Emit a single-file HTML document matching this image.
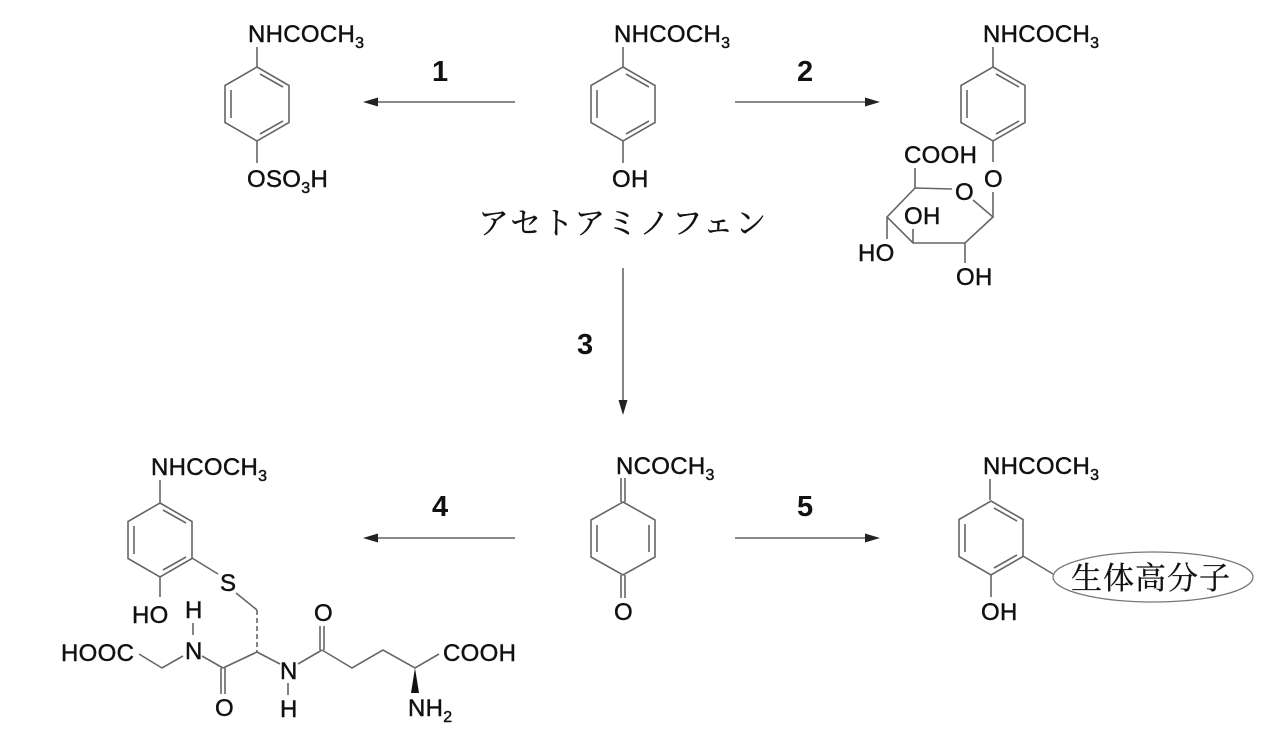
<!DOCTYPE html>
<html><head><meta charset="utf-8"><style>
html,body{margin:0;padding:0;background:#fff;}
svg{display:block;}
.t{font-family:"Liberation Sans",Arial,sans-serif;font-size:24px;fill:#111;stroke:#111;stroke-width:0.45;letter-spacing:0.3px;}
.n{font-family:"Liberation Sans",Arial,sans-serif;font-size:29px;font-weight:bold;fill:#111;}
.j{font-family:"Liberation Serif","Noto Serif CJK SC","Noto Sans CJK JP",serif;font-size:31px;fill:#111;stroke:#111;stroke-width:0.3;}
.b{stroke:#666;stroke-width:1.6;fill:none;}
.a{stroke:#444;stroke-width:1.3;fill:none;}
</style></head><body>
<svg width="1279" height="750" viewBox="0 0 1279 750" xmlns="http://www.w3.org/2000/svg">
<defs>
<g id="ring">
<polygon class="b" points="0,-37 32,-18.5 32,18.5 0,37 -32,18.5 -32,-18.5"/>
<line class="b" x1="-26" y1="-14" x2="-26" y2="14"/>
<line class="b" x1="3" y1="-30" x2="26" y2="-17"/>
<line class="b" x1="26" y1="17" x2="3" y2="30"/>
</g>
</defs>

<!-- top center acetaminophen -->
<text class="t" x="614" y="42">NHCOCH<tspan font-size="16" dy="6">3</tspan></text>
<line class="b" x1="623" y1="47" x2="623" y2="67"/>
<use href="#ring" x="623" y="104"/>
<line class="b" x1="623" y1="141" x2="623" y2="163"/>
<text class="t" x="612" y="187">OH</text>
<text class="j" x="478" y="234" letter-spacing="1.5">アセトアミノフェン</text>

<!-- top left sulfate -->
<text class="t" x="248" y="42">NHCOCH<tspan font-size="16" dy="6">3</tspan></text>
<line class="b" x1="257" y1="47" x2="257" y2="67"/>
<use href="#ring" x="257" y="104"/>
<line class="b" x1="257" y1="141" x2="257" y2="163"/>
<text class="t" x="247" y="187">OSO<tspan font-size="16" dy="6">3</tspan><tspan dy="-6">H</tspan></text>

<!-- top right glucuronide -->
<text class="t" x="983" y="42">NHCOCH<tspan font-size="16" dy="6">3</tspan></text>
<line class="b" x1="993" y1="47" x2="993" y2="67"/>
<use href="#ring" x="993" y="104"/>
<line class="b" x1="993" y1="141" x2="993" y2="162"/>
<text class="t" x="984" y="187">O</text>
<line class="b" x1="993" y1="192" x2="993" y2="217"/>
<polyline class="b" points="973,200 993,217 965,243 913,243 887,217 915,188 952,189"/>
<text class="t" x="955" y="200">O</text>
<line class="b" x1="915" y1="188" x2="915" y2="168"/>
<text class="t" x="904" y="163">COOH</text>
<line class="b" x1="913" y1="243" x2="913" y2="229"/>
<text class="t" x="904" y="224">OH</text>
<line class="b" x1="887" y1="217" x2="887" y2="239"/>
<text class="t" x="858" y="261">HO</text>
<line class="b" x1="965" y1="243" x2="965" y2="263"/>
<text class="t" x="956" y="285">OH</text>

<!-- arrows -->
<line class="a" x1="515" y1="102" x2="375" y2="102"/>
<polygon points="363,102 378,97.5 378,106.5" fill="#222"/>
<text class="n" x="432" y="81">1</text>
<line class="a" x1="735" y1="102" x2="868" y2="102"/>
<polygon points="880,102 865,97.5 865,106.5" fill="#222"/>
<text class="n" x="797" y="81">2</text>
<line class="a" x1="623" y1="268" x2="623" y2="403"/>
<polygon points="623,415 618.5,400 627.5,400" fill="#222"/>
<text class="n" x="577" y="354">3</text>
<line class="a" x1="515" y1="538" x2="375" y2="538"/>
<polygon points="363,538 378,533.5 378,542.5" fill="#222"/>
<text class="n" x="432" y="516">4</text>
<line class="a" x1="735" y1="538" x2="868" y2="538"/>
<polygon points="880,538 865,533.5 865,542.5" fill="#222"/>
<text class="n" x="797" y="516">5</text>

<!-- bottom center quinone imine -->
<text class="t" x="616" y="474">NCOCH<tspan font-size="16" dy="6">3</tspan></text>
<line class="b" x1="621" y1="478" x2="621" y2="502"/>
<line class="b" x1="625" y1="478" x2="625" y2="502"/>
<polygon class="b" points="623,502 655,520 655,557 623,575 591,557 591,520"/>
<line class="b" x1="597" y1="525" x2="597" y2="552"/>
<line class="b" x1="649" y1="525" x2="649" y2="552"/>
<line class="b" x1="621" y1="575" x2="621" y2="598"/>
<line class="b" x1="625" y1="575" x2="625" y2="598"/>
<text class="t" x="614" y="620">O</text>

<!-- bottom right -->
<text class="t" x="983" y="474">NHCOCH<tspan font-size="16" dy="6">3</tspan></text>
<line class="b" x1="990" y1="479" x2="990" y2="500"/>
<use href="#ring" x="991" y="538"/>
<line class="b" x1="991" y1="575" x2="991" y2="597"/>
<text class="t" x="981" y="620">OH</text>
<line class="b" x1="1023" y1="556" x2="1053" y2="574"/>
<ellipse cx="1153" cy="577" rx="100" ry="25" fill="none" stroke="#777" stroke-width="1.3"/>
<text class="j" x="1071" y="589" letter-spacing="1">生体高分子</text>

<!-- bottom left glutathione conjugate -->
<text class="t" x="151" y="475">NHCOCH<tspan font-size="16" dy="6">3</tspan></text>
<line class="b" x1="160" y1="480" x2="160" y2="503"/>
<use href="#ring" x="160" y="540"/>
<line class="b" x1="160" y1="577" x2="160" y2="597"/>
<text class="t" x="132" y="623">HO</text>
<line class="b" x1="192" y1="558" x2="218" y2="574"/>
<text class="t" x="220" y="591">S</text>
<line class="b" x1="236" y1="593" x2="257" y2="610"/>
<line x1="257" y1="610" x2="257" y2="652" stroke="#666" stroke-width="1.6" stroke-dasharray="5,3"/>
<line class="b" x1="257" y1="652" x2="280" y2="664"/>
<text class="t" x="280" y="679">N</text>
<line class="b" x1="288" y1="683" x2="288" y2="695"/>
<text class="t" x="280" y="717">H</text>
<line class="b" x1="298" y1="664" x2="322" y2="650"/>
<line class="b" x1="320" y1="650" x2="320" y2="626"/>
<line class="b" x1="324" y1="650" x2="324" y2="626"/>
<text class="t" x="314" y="621">O</text>
<polyline class="b" points="322,650 352,668 383,650 415,668 439,654"/>
<text class="t" x="443" y="661">COOH</text>
<polygon points="415,668 411,693 419,693" fill="#111"/>
<text class="t" x="408" y="716">NH<tspan font-size="16" dy="6">2</tspan></text>
<line class="b" x1="257" y1="652" x2="223" y2="668"/>
<line class="b" x1="221" y1="668" x2="221" y2="694"/>
<line class="b" x1="225" y1="668" x2="225" y2="694"/>
<text class="t" x="215" y="716">O</text>
<line class="b" x1="223" y1="668" x2="202" y2="656"/>
<text class="t" x="185" y="659">N</text>
<line class="b" x1="193" y1="635" x2="193" y2="623"/>
<text class="t" x="185" y="618">H</text>
<polyline class="b" points="183,656 162,668 139,654"/>
<text class="t" x="61" y="661">HOOC</text>
</svg>
</body></html>
